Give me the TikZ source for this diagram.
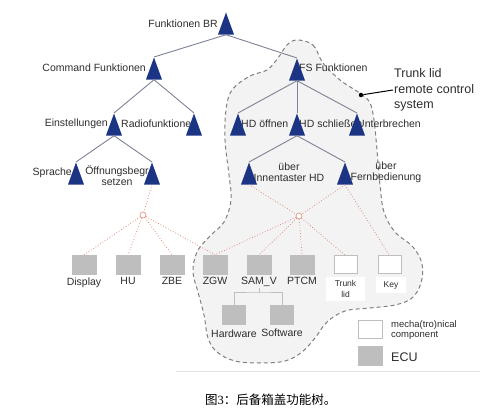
\documentclass[tikz,border=0pt]{standalone}
\usepackage{fontspec}
\setmainfont{Liberation Sans}
\newfontfamily\cjk{Noto Sans CJK SC}
\newfontfamily\capnum{Liberation Serif}
\usetikzlibrary{positioning, shapes.geometric}
\definecolor{navy}{RGB}{28,52,132}
\definecolor{treegray}{RGB}{125,130,148}
\definecolor{salmon}{RGB}{222,140,120}
\definecolor{ecugray}{RGB}{190,190,190}
\definecolor{zonegray}{RGB}{243,243,243}
\definecolor{txt}{RGB}{45,45,45}

\begin{document}
\begin{tikzpicture}[x=1pt, y=-1pt,
  tri/.style={isosceles triangle, isosceles triangle stretches, shape border rotate=90,
    minimum width=16pt, minimum height=22pt, inner sep=0pt, fill=navy, anchor=north},
  treeline/.style={treegray, line width=0.9pt},
  dotline/.style={salmon, dotted, line width=0.8pt},
  junction/.style={circle, draw=salmon, fill=white, line width=0.6pt, minimum size=6pt, inner sep=0pt},
  ecu/.style={fill=ecugray, minimum width=25pt, minimum height=20pt, inner sep=0pt},
  mech/.style={draw=ecugray, line width=1pt, fill=white, minimum width=23pt, minimum height=18pt, inner sep=0pt},
  lbl/.style={text=txt, font=\fontsize{10.5}{11}\selectfont, inner sep=1pt},
  smalllbl/.style={text=txt, font=\fontsize{8.5}{10.5}\selectfont, inner sep=1pt}]
  \useasboundingbox (0,0) rectangle (495,411);

  % trunk lid zone
  \draw[fill=zonegray, draw=gray, dashed, dash pattern=on 4pt off 3pt, line width=1pt]
    plot[smooth cycle, tension=0.6] coordinates {
      (297,40) (313,45) (323,63) (340,80) (361,94) (370,103) (374,120) (377,150)
      (380,185) (384,212) (395,232) (413,247) (422,264) (421,283) (412,298)
      (395,305) (370,308) (345,311) (327,322) (315,338) (302,352) (285,361)
      (260,363) (235,361) (217,352) (208,338) (204,315) (198,292) (193,272)
      (197,252) (210,236) (224,222) (231,200) (229,175) (225,140) (226,110)
      (232,90) (250,76) (267,70) (278,58) (287,45)};

  % labels of the tree
  \node[lbl, anchor=east] (l-br) at (219,24) {Funktionen BR};
  \node[lbl, anchor=east] (l-cmd) at (147,68) {Command Funktionen};
  \node[lbl, anchor=east] (l-einst) at (109,124) {Einstellungen};
  \node[lbl, anchor=west] (l-radio) at (120,124) {Radiofunktionen};
  \node[lbl, anchor=east] (l-sprache) at (73,173) {Sprache};
  \node[lbl, align=center] (l-offb) at (117,176) {Öffnungsbegr\\setzen};
  \node[lbl, anchor=west] (l-fs) at (298,68) {FS Funktionen};
  \node[lbl, anchor=west] (l-hdo) at (240,124) {HD öffnen};
  \node[lbl, anchor=west] (l-hds) at (298,124) {HD schließen};
  \node[lbl, anchor=west] (l-unter) at (356,124) {Unterbrechen};
  \node[lbl, align=center] (l-innen) at (289,172) {über\\Innentaster HD};
  \node[lbl, align=center] (l-fern) at (386,172) {über\\Fernbedienung};

  % function tree
  \node[tri] (br) at (226,12) {};
  \node[tri] (cmd) at (154,57) {};
  \node[tri] (fs) at (297,58) {};
  \node[tri] (einst) at (114,113) {};
  \node[tri] (radio) at (194,113) {};
  \node[tri] (hdo) at (238,113) {};
  \node[tri] (hds) at (297,113) {};
  \node[tri] (unter) at (357,113) {};
  \node[tri] (sprache) at (76,162) {};
  \node[tri] (offb) at (152,162) {};
  \node[tri] (innen) at (249,162) {};
  \node[tri] (fern) at (345,162) {};

  \draw[treeline] (br.south) -- (cmd.north);
  \draw[treeline] (br.south) -- (fs.north);
  \draw[treeline] (cmd.south) -- (einst.north);
  \draw[treeline] (cmd.south) -- (radio.north);
  \draw[treeline] (einst.south) -- (sprache.north);
  \draw[treeline] (einst.south) -- (offb.north);
  \draw[treeline] (fs.south) -- (hdo.north);
  \draw[treeline] (fs.south) -- (hds.north);
  \draw[treeline] (fs.south) -- (unter.north);
  \draw[treeline] (hds.south) -- (innen.north);
  \draw[treeline] (hds.south) -- (fern.north);

  % components
  \foreach \nm/\x/\txt in {disp/84/Display, hu/128/HU, zbe/172/ZBE, zgw/215/ZGW, sam/259/SAM\_V, ptcm/302/PTCM} {
    \node[ecu] (\nm) at (\x,265) {};
    \node[lbl, below=1pt of \nm] (\nm-lbl) {\txt};
  }
  \node[mech] (trunk) at (345.5,265) {};
  \node[smalllbl, fill=white, align=center, minimum width=39pt, minimum height=24pt, anchor=north] (trunk-lbl) at (345.5,277) {Trunk\\lid};
  \node[mech] (key) at (389.5,265) {};
  \node[smalllbl, fill=white, minimum width=30pt, minimum height=16pt, anchor=north] (key-lbl) at (391,277) {Key};

  \node[ecu, minimum width=24pt] (hw) at (234,315) {};
  \node[ecu, minimum width=24pt] (sw) at (282,315) {};
  \node[lbl, below=3pt of hw] (hw-lbl) {Hardware};
  \node[lbl, below=3pt of sw] (sw-lbl) {Software};
  \coordinate (fork) at (259,293);
  \draw[ecugray, line width=1pt] (sam-lbl.south) -- (sam-lbl.south |- fork);
  \draw[ecugray, line width=1pt] (hw.north) |- (fork) -| (sw.north);

  % mapping to components
  \node[junction] (jl) at (143,215) {};
  \node[junction] (jr) at (299,216) {};
  \draw[dotline] (offb.south) -- (jl);
  \foreach \nm in {disp, hu, zbe, zgw}
    \draw[dotline] (jl) -- (\nm.north);
  \draw[dotline] (innen.south) -- (jr);
  \draw[dotline] (fern.south) -- (jr);
  \foreach \nm in {zgw, sam, ptcm, trunk}
    \draw[dotline] (jr) -- (\nm.north);
  \draw[dotline] (fern.south) -- (key.north);

  % annotation
  \node[circle, fill=black, inner sep=0pt, minimum size=4.5pt] (pin) at (361,95) {};
  \node[text=txt, font=\fontsize{12.5}{15.5}\selectfont, align=left, anchor=west, inner sep=1pt] (tlrc) at (393,90) {Trunk lid\\remote control\\system};
  \draw[line width=1pt] (pin) -- (tlrc.west);

  % legend
  \node[mech, minimum width=24pt] (leg-mech) at (370,330) {};
  \node[text=txt, font=\fontsize{9.5}{10.5}\selectfont, align=left, anchor=west, inner sep=1pt] (leg-mech-lbl) at (390,330) {mecha(tro)nical\\component};
  \node[ecu, minimum width=25pt, minimum height=19pt] (leg-ecu) at (370,356) {};
  \node[text=txt, font=\fontsize{12.5}{14}\selectfont, anchor=west, inner sep=1pt] (leg-ecu-lbl) at (390,357) {ECU};

  \draw[black!10, line width=0.6pt] (176,371) -- (480,371);
  \node[font=\fontsize{12.5}{14}\selectfont, anchor=west, inner sep=0pt] (cap) at (205,400) {\cjk 图{\capnum 3}：后备箱盖功能树。};
\end{tikzpicture}
\end{document}
